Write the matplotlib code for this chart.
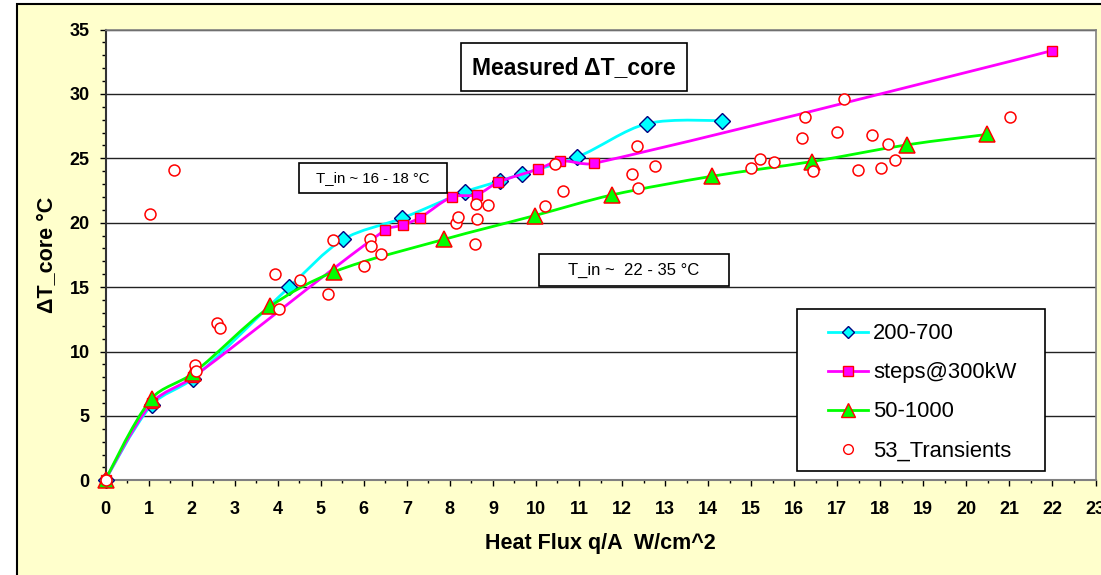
import numpy as np
import matplotlib
matplotlib.use("Agg")
import matplotlib.pyplot as plt
from matplotlib.path import Path
from matplotlib.patches import PathPatch, Rectangle
from matplotlib.lines import Line2D
from matplotlib.ticker import MultipleLocator

plt.rcParams['font.family'] = ['Liberation Sans', 'DejaVu Sans']

# --- data (heat flux W/cm^2, delta T core degC) ---
q_200_700 = [0, 1.07, 2.03, 4.27, 5.52, 6.89, 8.36, 9.17, 9.68, 10.96, 12.59, 14.33]
dt_200_700 = [0, 5.85, 7.9, 15.0, 18.7, 20.35, 22.4, 23.25, 23.8, 25.1, 27.7, 27.9]

q_steps = [0, 1.07, 2.03, 6.5, 6.9, 7.31, 8.05, 8.62, 9.13, 10.05, 10.55, 11.34, 21.99]
dt_steps = [0, 6.0, 8.0, 19.45, 19.8, 20.4, 22.0, 22.17, 23.15, 24.16, 24.8, 24.6, 33.36]

q_50_1000 = [0, 1.07, 2.03, 3.83, 5.32, 7.86, 9.97, 11.76, 14.08, 16.42, 18.63, 20.48]
dt_50_1000 = [0, 6.35, 8.3, 13.5, 16.2, 18.7, 20.55, 22.15, 23.6, 24.75, 26.05, 26.85]

q_trans = [0, 1.03, 1.58, 2.08, 2.1, 2.59, 2.65, 3.94, 4.04, 4.52, 5.17, 5.28,
           6.0, 6.14, 6.17, 6.41, 8.15, 8.19, 8.59, 8.61, 8.62, 8.89, 10.2, 10.44,
           10.63, 12.24, 12.35, 12.38, 12.76, 14.99, 15.2, 15.52, 16.19, 16.24, 16.43,
           17.0, 17.16, 17.48, 17.8, 18.01, 18.17, 18.34, 21.02]
dt_trans = [0, 20.7, 24.06, 8.96, 8.52, 12.25, 11.86, 16.03, 13.31, 15.56, 14.48, 18.65,
            16.6, 18.72, 18.2, 17.56, 20.0, 20.48, 18.36, 21.44, 20.3, 21.34, 21.26, 24.58,
            22.43, 23.78, 25.92, 22.69, 24.42, 24.24, 24.94, 24.68, 26.57, 28.2, 23.98,
            27.04, 29.63, 24.06, 26.83, 24.24, 26.13, 24.89, 28.2]

x_ticks = list(range(0, 24))
y_ticks = list(range(0, 36, 5))


def smooth_line(ax, xs, ys, color, lw, zorder, tension=0.32):
    """Excel-like smoothed line: cubic Bezier through the points."""
    pts = np.column_stack([xs, ys]).astype(float)
    disp = ax.transData.transform(pts)
    before = pts.copy()
    after = pts.copy()
    for i in range(1, len(pts) - 1):
        d01 = np.hypot(*(disp[i] - disp[i - 1]))
        d12 = np.hypot(*(disp[i + 1] - disp[i]))
        tang = pts[i + 1] - pts[i - 1]
        before[i] = pts[i] - tension * d01 / (d01 + d12) * tang
        after[i] = pts[i] + tension * d12 / (d01 + d12) * tang
    verts = [pts[0]]
    codes = [Path.MOVETO]
    for i in range(len(pts) - 1):
        verts += [after[i], before[i + 1], pts[i + 1]]
        codes += [Path.CURVE4] * 3
    ax.add_patch(PathPatch(Path(verts, codes), fc='none', ec=color, lw=lw,
                           zorder=zorder, clip_on=False, joinstyle='round'))


fig = plt.figure(figsize=(11.01, 5.75), dpi=100)
fig.patch.set_facecolor('white')
# chart area (yellow with black border, cut at right/bottom)
fig.add_artist(Rectangle((17 / 1101, -0.1), 1.2, 1.1 - 4 / 575, transform=fig.transFigure,
                         fc='#FFFFCC', ec='black', lw=1.5, zorder=-5))

ax = fig.add_axes([105.5 / 1101, 1 - 480.3 / 575, 990 / 1101, 450.8 / 575])
ax.set_facecolor('white')
ax.set_xlim(0, 23)
ax.set_ylim(0, 35)

ax.set_xticks(x_ticks)
ax.set_yticks(y_ticks)
ax.xaxis.set_minor_locator(MultipleLocator(0.5))
ax.yaxis.set_minor_locator(MultipleLocator(1))
ax.set_xticklabels([str(t) for t in x_ticks], fontweight='bold', fontsize=13)
ax.set_yticklabels([str(t) for t in y_ticks], fontweight='bold', fontsize=13)
ax.tick_params(axis='y', which='major', direction='out', length=4.5, width=1, pad=7)
ax.tick_params(axis='y', which='minor', direction='out', length=3, width=1)
ax.tick_params(axis='x', which='major', direction='out', length=4, width=1, pad=11)
ax.tick_params(axis='x', which='minor', direction='out', length=2.5, width=1)

ax.yaxis.grid(True, which='major', color='#222222', lw=1)
ax.set_axisbelow(True)
for side in ['top', 'right']:
    ax.spines[side].set_color('#808080')
    ax.spines[side].set_linewidth(1.2)
ax.spines['bottom'].set_color('#808080')
ax.spines['bottom'].set_linewidth(1.5)
ax.spines['left'].set_color('#333333')
ax.spines['left'].set_linewidth(1.5)

# series, in Excel drawing order
smooth_line(ax, q_200_700, dt_200_700, '#00FFFF', 2.0, 3)
ax.plot(q_200_700, dt_200_700, ls='none', marker='D', ms=7.8, mfc='#00FFFF',
        mec='#000080', mew=1, zorder=3.5, clip_on=False)
smooth_line(ax, q_steps, dt_steps, '#FF00FF', 2.0, 4)
ax.plot(q_steps, dt_steps, ls='none', marker='s', ms=7.8, mfc='#FF00FF',
        mec='#FF0000', mew=1, zorder=4.5, clip_on=False)
smooth_line(ax, q_50_1000, dt_50_1000, '#00FF00', 2.0, 5)
ax.plot(q_50_1000, dt_50_1000, ls='none', marker='^', ms=11.8, mfc='#00FF00',
        mec='#FF0000', mew=1.1, zorder=5.5, clip_on=False)
ax.plot(q_trans, dt_trans, ls='none', marker='o', ms=7.9, mfc='white',
        mec='#FF0000', mew=1.1, zorder=6, clip_on=False)

ax.set_xlabel('Heat Flux q/A  W/cm^2', fontsize=15.5, fontweight='bold', va='center')
ax.xaxis.set_label_coords(0.5, -0.141)
ax.set_ylabel('ΔT_core °C', fontsize=15.5, fontweight='bold', va='center')
ax.yaxis.set_label_coords(-0.059, 0.5)

# text boxes
def text_box(x0, y0, x1, y1, text, size, weight='normal'):
    ax.add_patch(Rectangle((x0, y0), x1 - x0, y1 - y0, transform=ax.transAxes,
                           fc='white', ec='black', lw=1.2, zorder=7, clip_on=False))
    ax.text((x0 + x1) / 2, (y0 + y1) / 2, text, transform=ax.transAxes, ha='center',
            va='center', fontsize=size, fontweight=weight, zorder=8)

text_box(0.3588, 0.8636, 0.5871, 0.9694, 'Measured ΔT_core', 16.5, 'bold')
text_box(0.1958, 0.6380, 0.3446, 0.7045, 'T_in ~ 16 - 18 °C', 10.8)
text_box(0.4376, 0.4310, 0.6301, 0.5013, 'T_in ~  22 - 35 °C', 12)

# legend with Excel-like frame
ax.add_patch(Rectangle((0.6988, 0.0206), 0.2502, 0.3587, transform=ax.transAxes,
                       fc='white', ec='black', lw=1.2, zorder=7, clip_on=False))
handles = [
    Line2D([], [], color='#00FFFF', lw=2.0, marker='D', ms=6.5, mfc='#00FFFF', mec='#000080'),
    Line2D([], [], color='#FF00FF', lw=2.0, marker='s', ms=7, mfc='#FF00FF', mec='#FF0000'),
    Line2D([], [], color='#00FF00', lw=2.0, marker='^', ms=10.5, mfc='#00FF00', mec='#FF0000'),
    Line2D([], [], ls='none', marker='o', ms=7, mfc='white', mec='#FF0000'),
]
labels = ['200-700', 'steps@300kW', '50-1000', '53_Transients']
leg = ax.legend(handles, labels, loc='upper left', bbox_to_anchor=(0.7298, 0.348),
                frameon=False, fontsize=15.8, borderpad=0, borderaxespad=0,
                handlelength=1.8, handletextpad=0.25, labelspacing=0.82)
leg.set_zorder(9)

fig.savefig('out.png', dpi=100, facecolor=fig.get_facecolor())
